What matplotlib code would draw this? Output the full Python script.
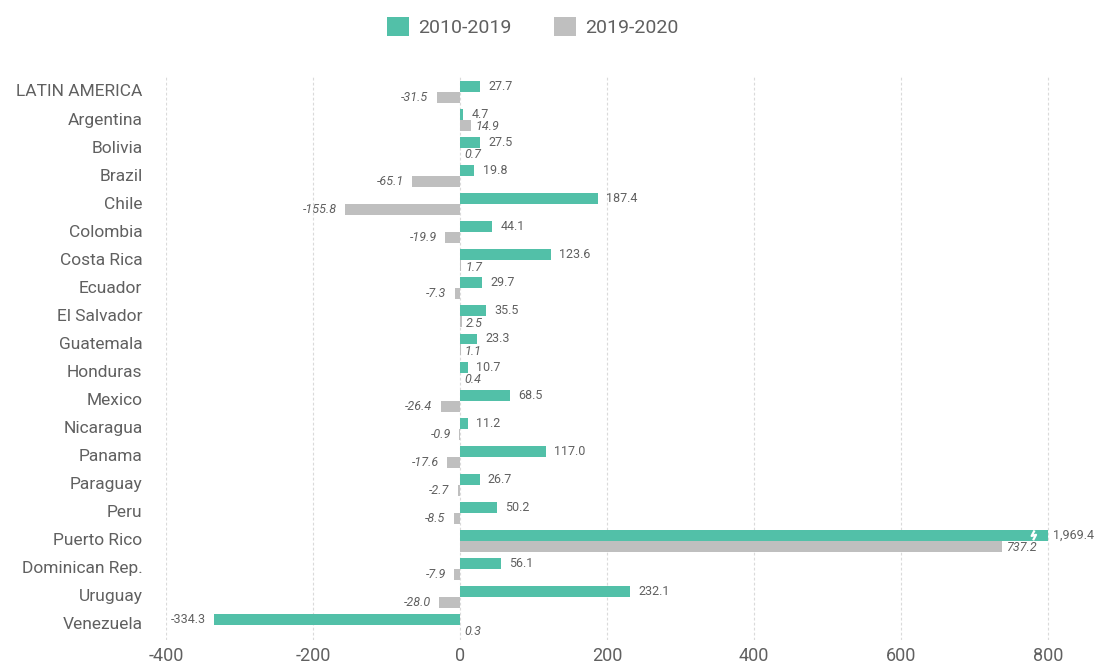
import matplotlib
matplotlib.use("Agg")
import matplotlib.pyplot as plt
from matplotlib.patches import Patch
from matplotlib.transforms import offset_copy
import numpy as np

plt.rcParams['font.family'] = ['Roboto', 'DejaVu Sans']

countries = ["LATIN AMERICA", "Argentina", "Bolivia", "Brazil", "Chile", "Colombia",
             "Costa Rica", "Ecuador", "El Salvador", "Guatemala", "Honduras", "Mexico",
             "Nicaragua", "Panama", "Paraguay", "Peru", "Puerto Rico", "Dominican Rep.",
             "Uruguay", "Venezuela"]
change_2010_2019 = [27.7, 4.7, 27.5, 19.8, 187.4, 44.1, 123.6, 29.7, 35.5, 23.3, 10.7,
                    68.5, 11.2, 117.0, 26.7, 50.2, 1969.4, 56.1, 232.1, -334.3]
change_2019_2020 = [-31.5, 14.9, 0.7, -65.1, -155.8, -19.9, 1.7, -7.3, 2.5, 1.1, 0.4,
                    -26.4, -0.9, -17.6, -2.7, -8.5, 737.2, -7.9, -28.0, 0.3]
series_names = ["2010-2019", "2019-2020"]
x_ticks = [-400, -200, 0, 200, 400, 600, 800]

TEAL = "#52C0A8"
GREY = "#BFBFBF"
TXT = "#606060"
CAP = 800  # bars beyond this are cut at the axis edge and marked with a break

fig = plt.figure(figsize=(10.95, 6.68), dpi=100)
ax = fig.add_axes([166 / 1095, 1 - 640 / 668, (1050 - 166) / 1095, (640 - 75) / 668])

n = len(countries)
y = np.arange(n)
h = 0.39
a = np.array(change_2010_2019)
b = np.array(change_2019_2020)
a_draw = np.minimum(a, CAP)
b_draw = np.minimum(b, CAP)

ax.barh(y - h / 2, a_draw, height=h, color=TEAL, zorder=3)
ax.barh(y + h / 2, b_draw, height=h, color=GREY, zorder=3)

ax.set_xlim(-400, 803)
ax.set_ylim(n - 1 + 0.535, -0.606)
ax.set_xticks(x_ticks)
ax.set_xticklabels([str(t) for t in x_ticks])
ax.tick_params(axis='x', length=0, labelsize=13, labelcolor=TXT, pad=5)
ax.set_yticks(y)
ax.set_yticklabels(countries)
ax.tick_params(axis='y', length=0, labelsize=12.5, labelcolor=TXT, pad=17)
for lab in ax.get_yticklabels():
    lab.set_verticalalignment('center')
for s in ax.spines.values():
    s.set_visible(False)
ax.xaxis.grid(True, color="#DADADA", linestyle=(0, (2.5, 2)), linewidth=0.8, zorder=0)
ax.set_axisbelow(True)

tr_r = offset_copy(ax.transData, fig=fig, x=6, y=0, units='points')
tr_rc = offset_copy(ax.transData, fig=fig, x=4, y=0, units='points')
tr_l = offset_copy(ax.transData, fig=fig, x=-6, y=0, units='points')
tr_r2 = offset_copy(ax.transData, fig=fig, x=3, y=-1, units='points')

for i in range(n):
    va, ve = a[i], a_draw[i]
    txt = f"{va:,.1f}"
    if va > CAP:
        ax.text(ve, y[i] - h / 2, txt, transform=tr_rc, ha='left', va='center',
                fontsize=9, color=TXT, clip_on=False)
    elif va >= 0:
        ax.text(ve, y[i] - h / 2, txt, transform=tr_r, ha='left', va='center',
                fontsize=9, color=TXT, clip_on=False)
    else:
        ax.text(ve, y[i] - h / 2, txt, transform=tr_l, ha='right', va='center',
                fontsize=9, color=TXT, clip_on=False)
    vb, be = b[i], b_draw[i]
    txt = f"{vb:,.1f}"
    if vb >= 0:
        ax.text(be, y[i] + h / 2, txt, transform=tr_r2, ha='left', va='center',
                fontsize=9, color=TXT, style='italic', clip_on=False)
    else:
        ax.text(be, y[i] + h / 2, txt, transform=tr_l, ha='right', va='center',
                fontsize=9, color=TXT, style='italic', clip_on=False)

# break marker on bars cut at the cap
for i in range(n):
    if a[i] > CAP:
        yc = y[i] - h / 2
        xs = [CAP - 18, CAP - 22, CAP - 16, CAP - 20]
        ys = [yc - h * 0.45, yc + 0.02, yc - 0.02, yc + h * 0.45]
        ax.plot(xs, ys, color="white", linewidth=1.6, zorder=4, solid_capstyle='butt')

handles = [Patch(facecolor=TEAL, edgecolor='none'), Patch(facecolor=GREY, edgecolor='none')]
fig.legend(handles, series_names, loc='center', bbox_to_anchor=(533 / 1095, 1 - 27 / 668),
           ncol=2, frameon=False, fontsize=14, labelcolor=TXT, handlelength=1.1,
           handleheight=1.1, handletextpad=0.5, columnspacing=2.2)

fig.savefig("out.png", dpi=100)
